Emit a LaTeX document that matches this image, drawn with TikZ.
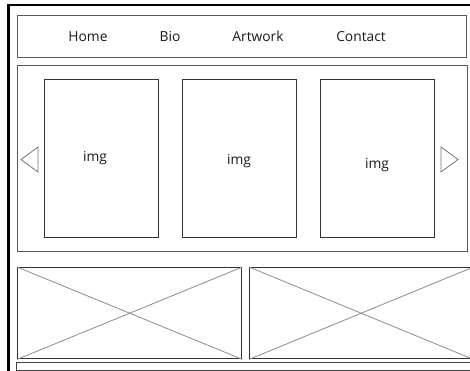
\documentclass[tikz,border=0pt]{standalone}
\usepackage{fontspec}
\setmainfont{Open Sans}
\begin{document}
\begin{tikzpicture}[x=1pt,y=-1pt,
  frame/.style={draw=black,line width=2.4pt},
  panel/.style={draw=black!65,line width=1.3pt},
  imgbox/.style={draw=black!80,line width=1.4pt},
  cross/.style={draw=black!45,line width=0.8pt},
  navtext/.style={font=\fontsize{13.8}{16}\selectfont,text=black!90,inner sep=0pt,anchor=base},
  imgtext/.style={font=\fontsize{13.8}{16}\selectfont,text=black!90,inner sep=0pt,anchor=base},
  arrowtri/.style={draw=black!55,line width=0.8pt}]
\useasboundingbox (0,0) rectangle (470,371);
\begin{scope}
\clip (0,0) rectangle (470,371);
% outer frame
\draw[frame] (8.5,380) -- (8.5,5) -- (480,5);
% nav bar
\node[panel,minimum width=449pt,minimum height=42pt,inner sep=0pt,anchor=north west] (nav) at (17,15) {};
\node[navtext] (home) at (88,41.5) {Home};
\node[navtext] (bio) at (170,41.5) {Bio};
\node[navtext] (art) at (258,41.5) {Artwork};
\node[navtext] (contact) at (361,41.5) {Contact};
% carousel panel
\node[panel,minimum width=450pt,minimum height=186pt,inner sep=0pt,anchor=north west] (car) at (17,65) {};
\node[imgbox,minimum width=114pt,minimum height=158pt,inner sep=0pt,anchor=north west] (b1) at (44,79) {};
\node[imgbox,minimum width=114pt,minimum height=158pt,inner sep=0pt,anchor=north west] (b2) at (182,79) {};
\node[imgbox,minimum width=114pt,minimum height=158pt,inner sep=0pt,anchor=north west] (b3) at (320,79) {};
\node[imgtext] (t1) at (95,161.5) {img};
\node[imgtext] (t2) at (239,165) {img};
\node[imgtext] (t3) at (377,168) {img};
\draw[arrowtri] (38,147) -- (21,159.5) -- (38,172) -- cycle;
\draw[arrowtri] (441,147) -- (458,159.5) -- (441,172) -- cycle;
% bottom boxes
\node[imgbox,minimum width=224pt,minimum height=91pt,inner sep=0pt,anchor=north west] (c1) at (17,267) {};
\node[imgbox,minimum width=223pt,minimum height=91pt,inner sep=0pt,anchor=north west] (c2) at (249,267) {};
\draw[cross] (c1.north west) -- (c1.south east);
\draw[cross] (c1.south west) -- (c1.north east);
\draw[cross] (c2.north west) -- (c2.south east);
\draw[cross] (c2.south west) -- (c2.north east);
% bottom strip
\node[draw=black!75,line width=0.8pt,minimum width=470pt,minimum height=8pt,inner sep=0pt,anchor=north west] (strip) at (16,362) {};
\end{scope}
\end{tikzpicture}
\end{document}
